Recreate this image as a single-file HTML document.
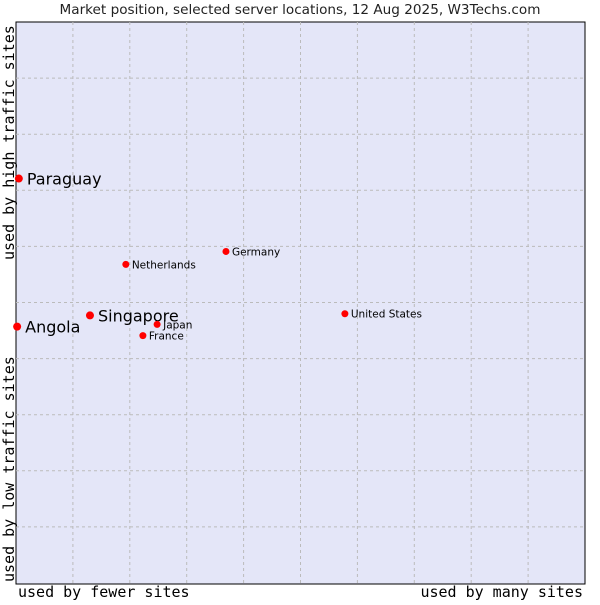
<!DOCTYPE html>
<html><head><meta charset="utf-8"><style>
body{margin:0;background:#fff;width:600px;height:600px;overflow:hidden}
svg text{font-family:"DejaVu Sans","Liberation Sans",sans-serif}
.mono{font-family:"DejaVu Sans Mono","Liberation Mono",monospace}
</style></head><body>
<svg id="chart" width="600" height="600">
<text x="300" y="14" text-anchor="middle" font-size="13.6" fill="#222">Market position, selected server locations, 12 Aug 2025, W3Techs.com</text>
<rect x="16" y="22" width="569" height="562" fill="#e4e6f8" stroke="#000" stroke-width="1"/>
<g id="grid"></g>
<g id="points"></g>
<text class="mono" x="18" y="597" font-size="15" fill="#000">used by fewer sites</text>
<text class="mono" x="583" y="597" text-anchor="end" font-size="15" fill="#000">used by many sites</text>
<text class="mono" transform="translate(14,582) rotate(-90)" font-size="15" fill="#000">used by low traffic sites</text>
<text class="mono" transform="translate(14,260) rotate(-90)" font-size="15" fill="#000">used by high traffic sites</text>
</svg>
<script>
const names = ["Paraguay","Angola","Singapore","Japan","France","Netherlands","Germany","United States"];
const xValues = [0.5,0.2,13.0,24.8,22.3,19.3,36.9,57.8];
const yValues = [72.1,45.7,47.7,46.1,44.1,56.8,59.1,48.0];
const big = [true,true,true,false,false,false,false,false];
const gridTicks = [10,20,30,40,50,60,70,80,90];
const NS="http://www.w3.org/2000/svg";
const X0=16,X1=585,Y0=583,Y1=22;
function sx(v){return X0+(X1-X0)*v/100;}
function sy(v){return Y0-(Y0-Y1)*v/100;}
const grid=document.getElementById('grid');
gridTicks.forEach(t=>{
  const v=document.createElementNS(NS,'line');
  v.setAttribute('x1',sx(t));v.setAttribute('x2',sx(t));v.setAttribute('y1',Y1);v.setAttribute('y2',584);
  v.setAttribute('stroke','#bbb');v.setAttribute('stroke-dasharray','3,3');
  
  
  grid.appendChild(v);
  const h=document.createElementNS(NS,'line');
  h.setAttribute('y1',sy(t));h.setAttribute('y2',sy(t));h.setAttribute('x1',X0);h.setAttribute('x2',X1);
  h.setAttribute('stroke','#bbb');h.setAttribute('stroke-dasharray','3,3');
  
  
  grid.appendChild(h);
});
const pts=document.getElementById('points');
names.forEach((n,i)=>{
  const x=sx(xValues[i]),y=sy(yValues[i]);
  const c=document.createElementNS(NS,'circle');
  c.setAttribute('cx',x);c.setAttribute('cy',y);c.setAttribute('r',big[i]?4:3.5);c.setAttribute('fill','#f00');
  
  
  pts.appendChild(c);
  const t=document.createElementNS(NS,'text');
  t.setAttribute('x',x+(big[i]?8:6));t.setAttribute('y',y+(big[i]?6:4));
  t.setAttribute('font-size',big[i]?16:10.5);t.setAttribute('fill','#000');
  t.textContent=n;
  
  
  pts.appendChild(t);
});
</script>
</body></html>
